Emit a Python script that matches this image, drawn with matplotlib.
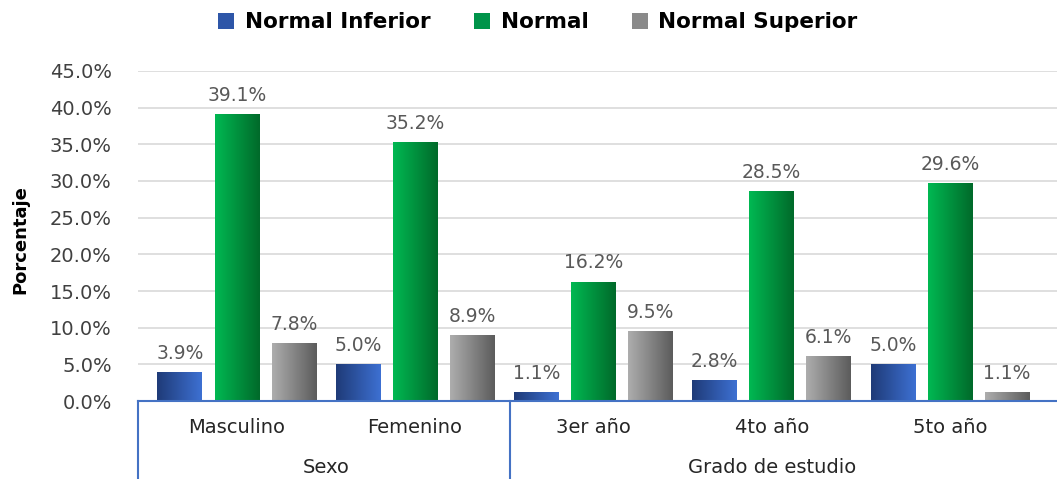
import numpy as np
import matplotlib
matplotlib.use("Agg")
import matplotlib.pyplot as plt
from matplotlib.colors import LinearSegmentedColormap
from matplotlib.patches import Patch

# data
categorias = ['Masculino', 'Femenino', '3er año', '4to año', '5to año']
grupos = ['Sexo', 'Grado de estudio']
grupo_tam = [2, 3]
series = ['Normal Inferior', 'Normal', 'Normal Superior']
normal_inferior = [3.9, 5.0, 1.1, 2.8, 5.0]
normal = [39.1, 35.2, 16.2, 28.5, 29.6]
normal_superior = [7.8, 8.9, 9.5, 6.1, 1.1]

valores = [normal_inferior, normal, normal_superior]
gradientes = [('#1f3b78', '#3d70d2'), ('#00b852', '#006a2a'), ('#adadad', '#5c5c5c')]
medios = ['#2e56a8', '#00944a', '#8a8a8a']

fig = plt.figure(figsize=(10.57, 4.79), dpi=100)
ax = fig.add_axes([0.1306, 0.1628, 0.8694, 0.689])

x = np.arange(len(categorias))
ancho = 0.25
desp = 0.32
grad = np.linspace(0, 1, 64).reshape(1, -1)

for i, vals in enumerate(valores):
    cmap = LinearSegmentedColormap.from_list('g%d' % i, gradientes[i])
    for xi, v in zip(x, vals):
        xc = xi + (i - 1) * desp
        h = v / 100
        ax.imshow(grad, extent=[xc - ancho / 2, xc + ancho / 2, 0, h],
                  aspect='auto', cmap=cmap, zorder=3, interpolation='bilinear')
        ax.annotate('%.1f%%' % v, (xc, h), xytext=(0, 7), textcoords='offset points',
                    ha='center', va='bottom', fontsize=13.5, color='#595959')

ax.set_xlim(-0.554, 4.6)
ax.set_ylim(0, 0.45)
ax.set_yticks(np.arange(0, 0.451, 0.05))
ax.set_yticklabels(['%.1f%%' % (t * 100) for t in np.arange(0, 0.451, 0.05)])
ax.tick_params(axis='y', length=0, pad=19, labelsize=14, labelcolor='#404040')
ax.set_xticks([])
ax.grid(axis='y', color='#d9d9d9', linewidth=1.2, zorder=0)
ax.set_axisbelow(True)
for s in ax.spines.values():
    s.set_visible(False)
ax.set_ylabel('Porcentaje', fontsize=13, fontweight='bold')
ax.yaxis.set_label_coords(-0.118, 0.49)

# categorias y grupos bajo el eje
azul = '#4472c4'
trans = ax.get_xaxis_transform()
ax.plot([-0.554, 4.6], [0, 0], color=azul, lw=1.5, transform=trans, clip_on=False, zorder=4)
for xi, c in zip(x, categorias):
    ax.text(xi, -0.08, c, transform=trans, ha='center', va='center', fontsize=14, color='#262626')
inicio = -0.554
pos = 0
for g, n in zip(grupos, grupo_tam):
    fin = pos + n - 0.5
    ax.plot([inicio, inicio], [0, -0.24], color=azul, lw=1.5, transform=trans, clip_on=False)
    centro = (pos - 0.5 + fin) / 2 if pos > 0 else (0 + n - 1) / 2
    ax.text(centro, -0.2, g, transform=trans, ha='center', va='center', fontsize=14, color='#262626')
    inicio = fin + 0.03
    pos += n

handles = [Patch(facecolor=c) for c in medios]
fig.legend(handles, series, loc='upper center', bbox_to_anchor=(0.509, 1.015), ncol=3,
           frameon=False, prop={'weight': 'bold', 'size': 15.5}, handlelength=0.75,
           handleheight=0.75, columnspacing=2.0, handletextpad=0.5)

fig.savefig('out.png', dpi=100)
